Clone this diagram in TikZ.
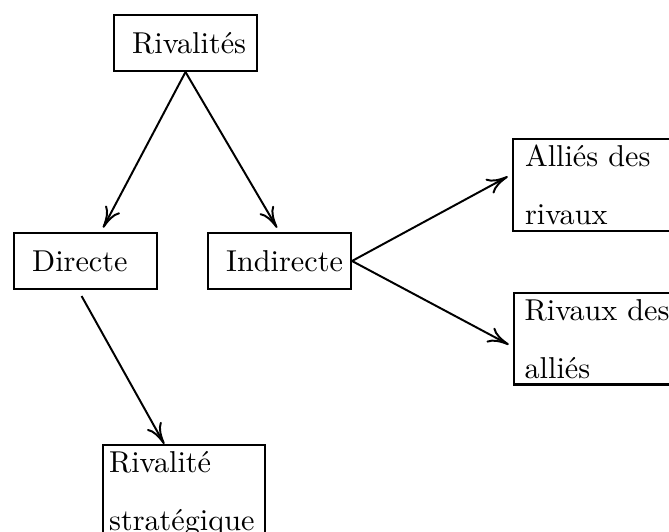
\documentclass[tikz,border=0pt]{standalone}
\usepackage{fontspec}
\usetikzlibrary{positioning,arrows.meta}
\begin{document}
\begin{tikzpicture}[x=0.331pt, y=-0.331pt,
	box/.style = {draw, line width=0.7pt, anchor=north west, inner xsep=6pt, inner ysep=2pt, text width=35.3pt, align=left, minimum height=18.5pt},
	tall/.style = {draw, line width=0.7pt, anchor=north west, inner ysep=2pt, text width=49.5pt, align=left},
	arr/.style = {-{To[length=7pt,width=5.5pt]}, line width=0.65pt, shorten >=1.6pt}]
		\clip (0,0) rectangle (669,532);
		\node[box] (riv) at (113,14) {Rivalités};
		\node[box] (dir) at (13,232) {Directe};
		\node[box] (ind) at (207,232) {Indirecte};
		\node[tall, inner xsep=4pt] (all) at (512,138) {Alliés des\\[7.2pt]rivaux};
		\node[tall, inner xsep=3.5pt] (rivd) at (513,292) {Rivaux des\\[7.2pt]alliés};
		\node[tall, inner xsep=2pt] (strat) at (102,444) {Rivalité\\[7.2pt]stratégique};
		\draw[arr] (riv.south) -- (dir);
		\draw[arr] (riv.south) -- (ind.north);
		\draw[arr] (ind.east) -- ([yshift=3.6pt]all.west);
		\draw[arr] (ind.east) -- ([yshift=-2.7pt]rivd.west);
		\draw[arr, shorten >=0pt] ([xshift=-1.3pt,yshift=-2pt]dir.south) -- ([xshift=-6.5pt]strat.north);
	\end{tikzpicture}
\end{document}
